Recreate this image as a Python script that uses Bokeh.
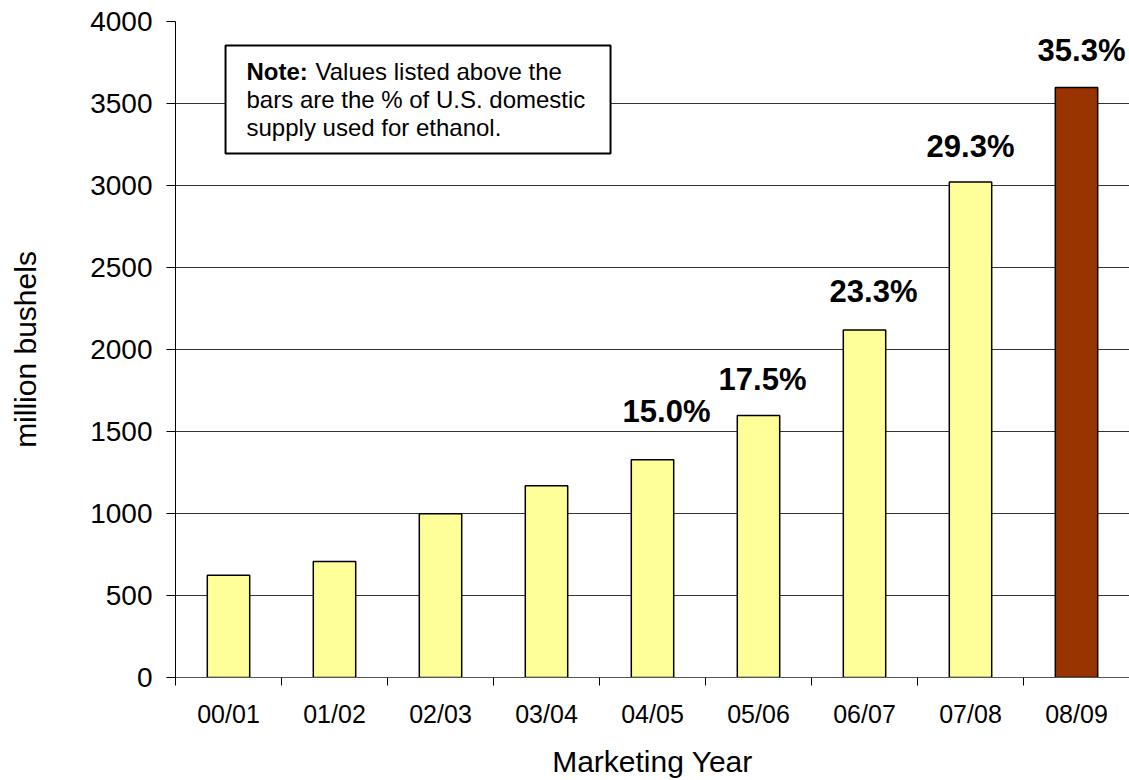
from bokeh.plotting import figure
from bokeh.models import ColumnDataSource, FixedTicker, Range1d
from bokeh.core.properties import value
from bokeh.embed import file_html
from bokeh.resources import INLINE

# ---- data ----
years = ["00/01", "01/02", "02/03", "03/04", "04/05", "05/06", "06/07", "07/08", "08/09"]
bushels = [624, 707, 998, 1169, 1328, 1598, 2119, 3022, 3598]
pct_years = ["04/05", "05/06", "06/07", "07/08", "08/09"]
pct_values = [15.0, 17.5, 23.3, 29.3, 35.3]
y_ticks = [0, 500, 1000, 1500, 2000, 2500, 3000, 3500, 4000]

FONT = "Liberation Sans"
YELLOW = "#FFFF99"
BROWN = "#993300"

n = len(years)
centers = [i + 0.5 for i in range(n)]
bounds = [i for i in range(n + 1)]
colors = [YELLOW] * (n - 1) + [BROWN]

p = figure(width=1129, height=780, output_backend="svg", toolbar_location=None,
           x_range=Range1d(0, n), y_range=Range1d(0, 4000),
           min_border_left=175, min_border_right=0, min_border_top=21, min_border_bottom=103)
p.outline_line_color = None
p.background_fill_color = "white"
p.border_fill_color = "white"

src = ColumnDataSource(dict(x=centers, top=bushels, color=colors))
p.vbar(x="x", top="top", bottom=0, width=0.4, source=src, fill_color="color",
       line_color="black", line_width=1.5)

# percent labels
label_dx = [14, 4, 9, 0, 5]
label_dy = [-48, -36, -38, -35, -37]
lsrc = ColumnDataSource(dict(
    x=[centers[years.index(y)] for y in pct_years],
    y=[bushels[years.index(y)] for y in pct_years],
    t=[f"{v:.1f}%" for v in pct_values],
    dx=label_dx, dy=label_dy))
p.text(x="x", y="y", text="t", source=lsrc, x_offset="dx", y_offset="dy",
       text_font=value(FONT), text_font_style="bold", text_font_size="31px",
       text_align="center", text_baseline="middle", text_color="black")

# note box (in plot coordinates)
p.quad(left=[0.472], right=[4.104], bottom=[3195], top=[3854],
       fill_color="white", line_color="black", line_width=2)
note_x = 0.67
p.text(x=[note_x], y=[3693], text=["Note:"], text_font=value(FONT), text_font_style="bold",
       text_font_size="24px", text_baseline="middle", text_align="left", text_color="black")
p.text(x=[note_x], y=[3693], text=["Values listed above the"], x_offset=69, text_font=value(FONT),
       text_font_size="24px", text_baseline="middle", text_align="left", text_color="black")
p.text(x=[note_x, note_x], y=[3523, 3353],
       text=["bars are the % of U.S. domestic", "supply used for ethanol."],
       text_font=value(FONT), text_font_size="24px", text_baseline="middle",
       text_align="left", text_color="black")

# y axis
yax = p.yaxis[0]
yax.ticker = FixedTicker(ticks=y_ticks)
yax.minor_tick_line_color = None
yax.major_tick_out = 9
yax.major_tick_in = 0
yax.major_label_standoff = 14
yax.major_label_text_font = FONT
yax.major_label_text_font_size = "28px"
yax.major_label_text_color = "black"
yax.axis_line_color = "black"
yax.major_tick_line_color = "black"
yax.axis_label = "million bushels"
yax.axis_label_text_font = FONT
yax.axis_label_text_font_size = "30px"
yax.axis_label_text_font_style = "normal"
yax.axis_label_text_color = "black"
yax.axis_label_standoff = 45

# x axis
xax = p.xaxis[0]
xax.ticker = FixedTicker(ticks=centers, minor_ticks=bounds)
xax.major_label_overrides = {c: y for c, y in zip(centers, years)}
xax.major_tick_line_color = None
xax.minor_tick_out = 8
xax.minor_tick_in = 0
xax.minor_tick_line_color = "black"
xax.major_label_standoff = 14
xax.major_label_text_font = FONT
xax.major_label_text_font_size = "25px"
xax.major_label_text_color = "black"
xax.axis_line_color = "#555555"
xax.axis_label = "Marketing Year"
xax.axis_label_text_font = FONT
xax.axis_label_text_font_size = "30px"
xax.axis_label_text_font_style = "normal"
xax.axis_label_text_color = "black"
xax.axis_label_standoff = 14

p.xgrid.grid_line_color = None
p.ygrid.grid_line_color = "#333333"
p.ygrid.grid_line_width = 1

open("out.html", "w").write(file_html(p, INLINE))
